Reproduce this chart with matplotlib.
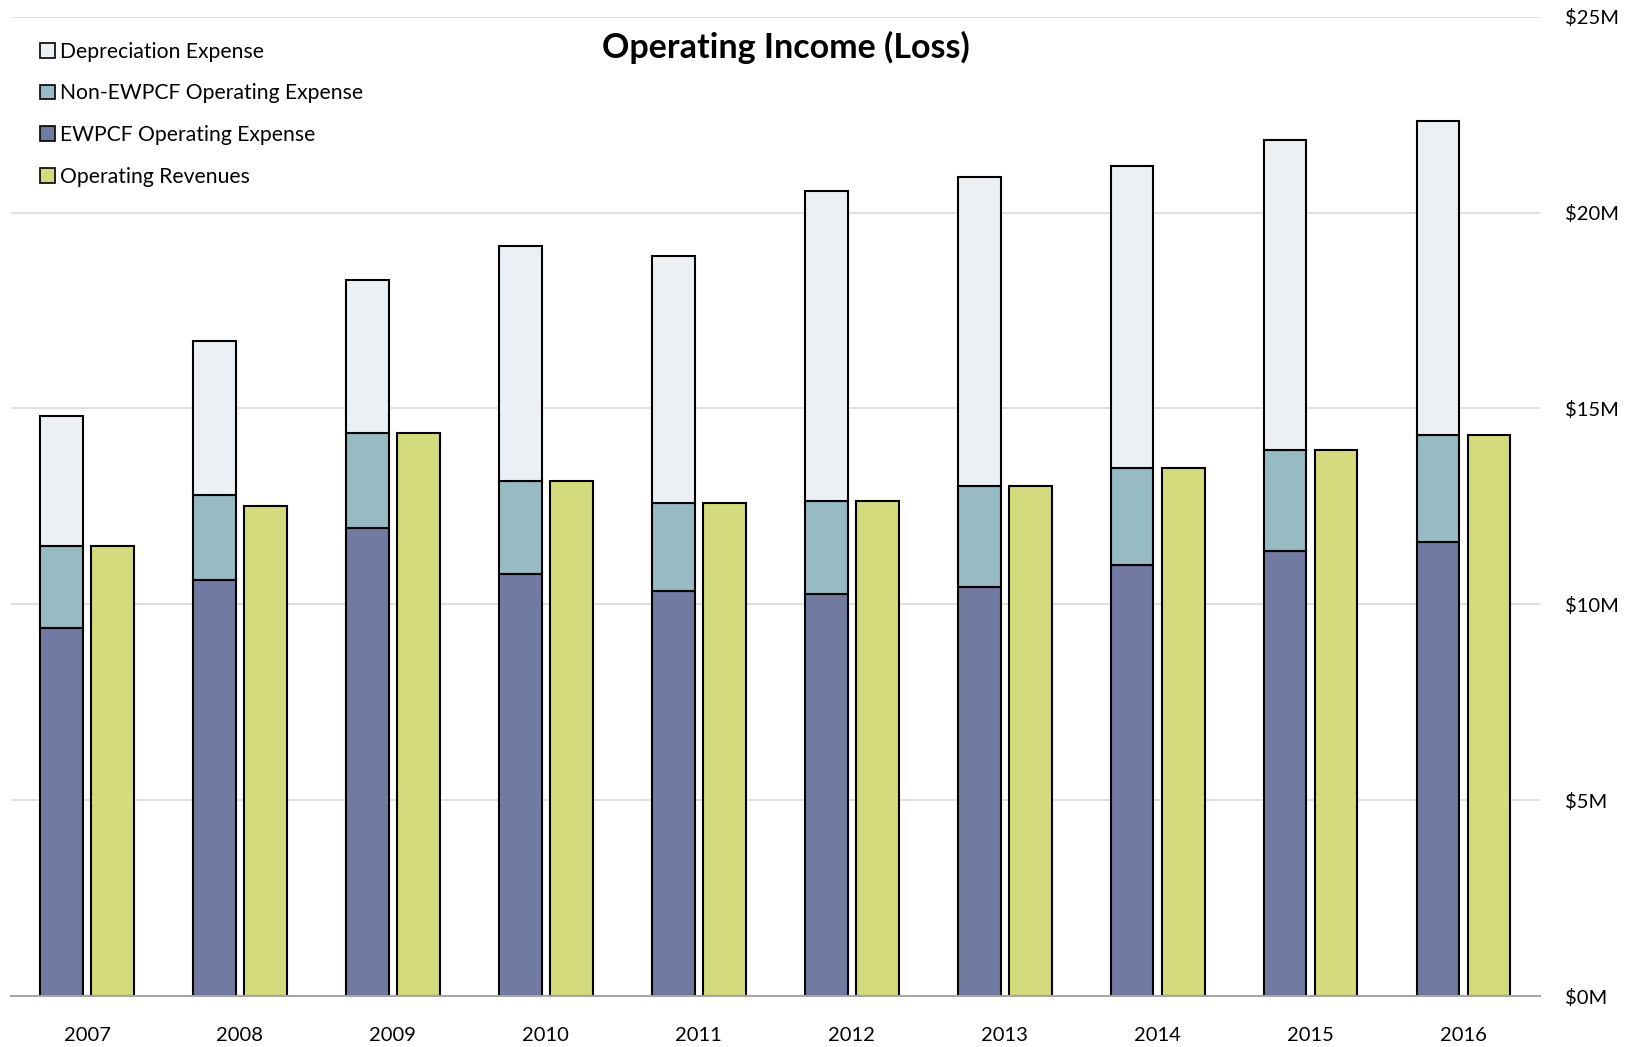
import numpy as np
import matplotlib
matplotlib.use("Agg")
import matplotlib.pyplot as plt
from matplotlib.ticker import FuncFormatter

# 数据（单位：百万美元）
years = ['2007', '2008', '2009', '2010', '2011', '2012', '2013', '2014', '2015', '2016']
ewpcf_expense = [9.39, 10.62, 11.96, 10.78, 10.33, 10.27, 10.43, 11.00, 11.37, 11.59]
non_ewpcf_expense = [2.09, 2.18, 2.42, 2.36, 2.25, 2.36, 2.58, 2.47, 2.58, 2.73]
depreciation = [3.33, 3.91, 3.91, 6.01, 6.30, 7.92, 7.91, 7.72, 7.91, 8.02]
operating_revenues = [11.48, 12.50, 14.38, 13.14, 12.58, 12.63, 13.01, 13.47, 13.95, 14.32]

y_ticks = [0, 5, 10, 15, 20, 25]

COL_DEP = '#eaf0f4'
COL_NON = '#96bbc3'
COL_EW = '#717aa1'
COL_REV = '#d4db7c'

plt.rcParams['font.family'] = ['Lato', 'DejaVu Sans']

fig = plt.figure(figsize=(16.47, 10.47), dpi=100)
ax = fig.add_axes([0.0064, 0.0487, 0.9286, 0.9353])

x = np.arange(len(years))
w = 0.28
off = 0.167
ew = np.array(ewpcf_expense)
non = np.array(non_ewpcf_expense)
dep = np.array(depreciation)

kw = dict(width=w, edgecolor='black', linewidth=1.5, zorder=3)
b_ew = ax.bar(x - off, ew, color=COL_EW, label='EWPCF Operating Expense', **kw)
b_non = ax.bar(x - off, non, bottom=ew, color=COL_NON, label='Non-EWPCF Operating Expense', **kw)
b_dep = ax.bar(x - off, dep, bottom=ew + non, color=COL_DEP, label='Depreciation Expense', **kw)
b_rev = ax.bar(x + off, operating_revenues, color=COL_REV, label='Operating Revenues', **kw)

ax.set_xlim(-0.5, len(years) - 0.5)
ax.set_ylim(0, 25)
ax.set_xticks(x)
ax.set_xticklabels(years, fontsize=14.5)
ax.set_yticks(y_ticks)
ax.yaxis.set_major_formatter(FuncFormatter(lambda v, p: f'${v:.0f}M'))
ax.yaxis.tick_right()
ax.tick_params(axis='y', length=0, pad=18, labelsize=14.5)
ax.tick_params(axis='x', length=0, pad=22)
for lbl in ax.get_yticklabels():
    lbl.set_horizontalalignment('left')

ax.grid(axis='y', color='#d9d9d9', linewidth=1.2, zorder=0)
for s in ['top', 'left', 'right']:
    ax.spines[s].set_visible(False)
ax.spines['bottom'].set_color('#a6a6a6')
ax.spines['bottom'].set_linewidth(1.5)
ax.spines['bottom'].set_zorder(4)

fig.text(0.477, 0.955, 'Operating Income (Loss)', ha='center', va='center',
         fontsize=24.5, fontweight='bold')

leg = ax.legend(handles=[b_dep, b_non, b_ew, b_rev], loc='upper left',
                bbox_to_anchor=(0.019, 0.968), bbox_transform=fig.transFigure,
                frameon=False, fontsize=15.2, handlelength=0.7, handleheight=0.7,
                handletextpad=0.25, labelspacing=1.02, borderaxespad=0)
for h in leg.legend_handles:
    h.set_linewidth(1.2)

fig.savefig('out.png', dpi=100)
